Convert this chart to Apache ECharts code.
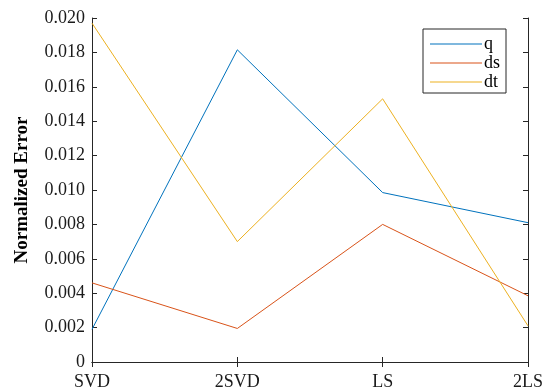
<!DOCTYPE html>
<html>
<head>
<meta charset="utf-8">
<script src="https://cdn.jsdelivr.net/npm/echarts@6/dist/echarts.min.js"></script>
<style>
html,body{margin:0;padding:0;background:#fff;}
#main{width:549px;height:391px;}
</style>
</head>
<body>
<div id="main"></div>
<script>
var categories = ['SVD', '2SVD', 'LS', '2LS'];
var qValues = [0.0019, 0.01815, 0.00985, 0.0081];
var dsValues = [0.0046, 0.00195, 0.0080, 0.00385];
var dtValues = [0.0197, 0.0070, 0.0153, 0.0021];
var yTicks = ['0', '0.002', '0.004', '0.006', '0.008', '0.010', '0.012', '0.014', '0.016', '0.018', '0.020'];

var font = 'Liberation Serif';
var axisColor = '#262626';

var myChart = echarts.init(document.getElementById('main'));

function makeLine(name, data, color){
	return {
		name: name,
		type: 'line',
		data: data,
		symbol: 'none',
		lineStyle: {color: color, width: 1},
		itemStyle: {color: color},
		animation: false
	};
}

var option = {
	backgroundColor: '#fff',
	grid: {left: 92, right: 21, top: 18, bottom: 28},
	legend: {
		orient: 'vertical',
		left: 423,
		top: 29,
		padding: [6, 6, 2, 7],
		icon: 'rect',
		itemWidth: 52,
		itemHeight: 1,
		itemGap: 1,
		backgroundColor: '#fff',
		borderColor: axisColor,
		borderWidth: 1,
		borderRadius: 0,
		textStyle: {fontFamily: font, fontSize: 18, color: '#000', lineHeight: 18, padding: [0, 0, 0, -3]},
		data: ['q', 'ds', 'dt']
	},
	xAxis: [{
		type: 'category',
		data: categories,
		boundaryGap: false,
		axisLine: {lineStyle: {color: axisColor}},
		axisTick: {inside: true, length: 5, lineStyle: {color: axisColor}},
		axisLabel: {fontFamily: font, fontSize: 18, color: '#1a1a1a', margin: 11},
		splitLine: {show: false}
	}, {
		type: 'category',
		data: categories,
		boundaryGap: false,
		position: 'top',
		axisLine: {lineStyle: {color: axisColor}},
		axisTick: {inside: true, length: 5, lineStyle: {color: axisColor}},
		axisLabel: {show: false},
		splitLine: {show: false}
	}],
	yAxis: [{
		type: 'value',
		min: 0,
		max: 0.02,
		interval: 0.002,
		name: 'Normalized Error',
		nameLocation: 'middle',
		nameGap: 60,
		nameTextStyle: {fontFamily: font, fontSize: 19, fontWeight: 'bold', color: '#000'},
		axisLine: {show: true, lineStyle: {color: axisColor}},
		axisTick: {show: true, inside: true, length: 5, lineStyle: {color: axisColor}},
		axisLabel: {
			fontFamily: font, fontSize: 18, color: '#1a1a1a', margin: 7,
			formatter: function(v){ return yTicks[Math.round(v / 0.002)]; }
		},
		splitLine: {show: false}
	}, {
		type: 'value',
		min: 0,
		max: 0.02,
		interval: 0.002,
		position: 'right',
		axisLine: {show: true, lineStyle: {color: axisColor}},
		axisTick: {show: true, inside: true, length: 5, lineStyle: {color: axisColor}},
		axisLabel: {show: false},
		splitLine: {show: false}
	}],
	series: [
		makeLine('q', qValues, '#0072BD'),
		makeLine('ds', dsValues, '#D95319'),
		makeLine('dt', dtValues, '#EDB120')
	]
};
myChart.setOption(option);
</script>
</body>
</html>
